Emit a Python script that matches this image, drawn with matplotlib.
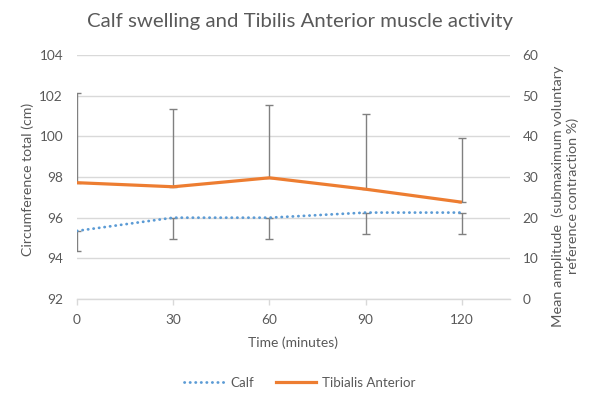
import matplotlib
matplotlib.use("Agg")
import matplotlib.pyplot as plt
from matplotlib.lines import Line2D

plt.rcParams['font.family'] = ['Lato', 'DejaVu Sans']

time_min = [0, 30, 60, 90, 120]
calf_cm = [95.35, 96.0, 96.0, 96.25, 96.25]
calf_err_minus = [1.0, 1.05, 1.05, 1.05, 1.05]
ta_pct = [28.6, 27.6, 29.8, 27.0, 23.8]
ta_err_plus = [22.1, 19.0, 17.9, 18.6, 15.9]
left_ticks = [92, 94, 96, 98, 100, 102, 104]
right_ticks = [0, 10, 20, 30, 40, 50, 60]
x_ticks = [0, 30, 60, 90, 120]

TXT = '#595959'
GRID = '#d9d9d9'
BLUE = '#5B9BD5'
ORANGE = '#ED7D31'
ERR = '#808080'
DOT = (0, (0.1, 1.9))

fig = plt.figure(figsize=(6.0, 4.01), dpi=100)
W, H = 600, 401
ax = fig.add_axes([77 / W, 1 - 299 / H, (510 - 77) / W, (299 - 55) / H])
ax2 = ax.twinx()

ax.set_xlim(0, 135)
ax.set_ylim(92, 104)
ax2.set_ylim(0, 60)
ax.set_yticks(left_ticks)
ax2.set_yticks(right_ticks)
ax.set_xticks(x_ticks)

for a in (ax, ax2):
    for s in a.spines.values():
        s.set_visible(False)
ax.spines['bottom'].set_visible(True)
ax.spines['bottom'].set_color(GRID)
ax.spines['bottom'].set_linewidth(1.0)

ax.yaxis.grid(True, color=GRID, linewidth=1.0)
ax.set_axisbelow(True)
ax.tick_params(axis='y', length=0, pad=10, labelsize=9.8, labelcolor=TXT)
ax2.tick_params(axis='y', length=0, pad=9, labelsize=9.8, labelcolor=TXT)
ax.tick_params(axis='x', length=4, width=1, color=GRID, pad=7, labelsize=9.8, labelcolor=TXT)

# Calf (left axis)
ax.plot(time_min, calf_cm, color=BLUE, linewidth=2.0, linestyle=DOT,
        dash_capstyle='round', zorder=3)
ax.errorbar(time_min, calf_cm, yerr=[calf_err_minus, [0] * 5], fmt='none',
            ecolor=ERR, elinewidth=1.0, capsize=3, capthick=1.0, zorder=2)

# Tibialis Anterior (right axis)
ax2.plot(time_min, ta_pct, color=ORANGE, linewidth=2.3, zorder=3,
         solid_capstyle='butt')
ax2.errorbar(time_min, ta_pct, yerr=[[0] * 5, ta_err_plus], fmt='none',
             ecolor=ERR, elinewidth=1.0, capsize=3, capthick=1.0, zorder=2)

ax.set_xlabel('Time (minutes)', fontsize=10, color=TXT, labelpad=7)
fig.text(28 / W, 1 - 179 / H, 'Circumference total (cm)', rotation=90,
         ha='center', va='center', fontsize=10.2, color=TXT)
fig.text(565 / W, 1 - 196 / H,
         'Mean amplitude  (submaximum voluntary\nreference contraction %)',
         rotation=90, ha='center', va='center', fontsize=10.4, color=TXT,
         multialignment='center')

fig.text(300 / W, 1 - 22 / H, 'Calf swelling and Tibilis Anterior muscle activity',
         ha='center', va='center', fontsize=14.7, color=TXT)

handles = [
    Line2D([], [], color=BLUE, linewidth=2.0, linestyle=DOT,
           dash_capstyle='round'),
    Line2D([], [], color=ORANGE, linewidth=2.3),
]
fig.legend(handles, ['Calf', 'Tibialis Anterior'], loc='center',
           bbox_to_anchor=(300 / W, 1 - 383 / H), ncol=2, frameon=False,
           fontsize=9.6, labelcolor=TXT, handlelength=3.0, columnspacing=1.6,
           handletextpad=0.5)

fig.savefig('out.png', dpi=100)
